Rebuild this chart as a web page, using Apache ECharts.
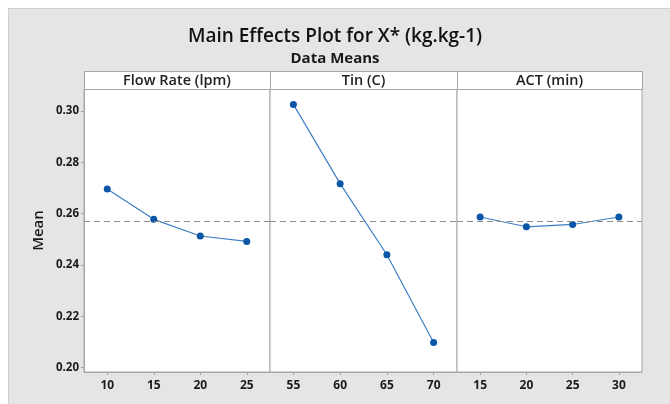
<!DOCTYPE html>
<html><head><meta charset="utf-8">
<script src="https://cdn.jsdelivr.net/npm/echarts@6/dist/echarts.min.js"></script>
<style>
html,body{margin:0;padding:0;background:#fff;}
#bg{position:absolute;left:8px;top:8px;width:670px;height:404px;background:#e5e5e5;border-left:1px solid #cfcfcf;border-top:1px solid #cfcfcf;}
#c{position:absolute;left:0;top:0;width:670px;height:404px;}
</style></head>
<body><div id="bg"></div><div id="c"></div>
<script>
const title = 'Main Effects Plot for X* (kg.kg-1)';
const subtitle = 'Data Means';
const panelNames = ['Flow Rate (lpm)', 'Tin (C)', 'ACT (min)'];
const flowCats = ['10', '15', '20', '25'];
const flowVals = [0.2696, 0.2578, 0.2513, 0.2492];
const tinCats = ['55', '60', '65', '70'];
const tinVals = [0.3026, 0.2717, 0.2440, 0.2098];
const actCats = ['15', '20', '25', '30'];
const actVals = [0.2587, 0.2549, 0.2558, 0.2587];
const grandMean = 0.2570;
const yTicks = [0.20, 0.22, 0.24, 0.26, 0.28, 0.30];
const yMin = 0.1983, yMax = 0.3086;

const cats = [flowCats, tinCats, actCats];
const vals = [flowVals, tinVals, actVals];
const lefts = [84, 270, 457];
const widths = [186, 187, 185];
const font = 'Open Sans';
const blue = '#0a56a6';

const grids = [], xAxes = [], yAxes = [], series = [];
for (let i = 0; i < 3; i++) {
  grids.push({left: lefts[i], top: 89, width: widths[i], height: 283, show: true,
    backgroundColor: '#fff', borderColor: '#a6a6a6', borderWidth: 1});
  xAxes.push({type: 'category', gridIndex: i, data: cats[i], boundaryGap: true,
    axisLine: {show: true, lineStyle: {color: '#a6a6a6'}},
    axisTick: {show: true, alignWithLabel: true, length: 3, lineStyle: {color: '#a6a6a6'}},
    axisLabel: {color: '#1a1a1a', fontFamily: font, fontSize: 12, fontWeight: 'bold', margin: 8},
    splitLine: {show: false}});
  yAxes.push({type: 'value', gridIndex: i, min: yMin, max: yMax,
    axisLine: {show: i === 0, lineStyle: {color: '#a6a6a6'}},
    axisTick: {show: i === 0, length: 3, customValues: yTicks, lineStyle: {color: '#a6a6a6'}},
    axisLabel: {show: i === 0, customValues: yTicks, color: '#1a1a1a', fontFamily: font, fontSize: 11.5, fontWeight: 'bold', margin: 5,
      formatter: v => v.toFixed(2)},
    splitLine: {show: false},
    name: i === 0 ? 'Mean' : '', nameLocation: 'middle', nameGap: 38,
    nameTextStyle: {color: '#1a1a1a', fontFamily: font, fontSize: 15, fontWeight: 600}});
  series.push({type: 'line', xAxisIndex: i, yAxisIndex: i, data: vals[i],
    symbol: 'circle', symbolSize: 7, lineStyle: {color: '#3f7fc4', width: 1.2},
    itemStyle: {color: blue}, silent: true,
    markLine: {silent: true, symbol: 'none', precision: 4, label: {show: false},
      lineStyle: {color: '#8c8c8c', type: [6, 4], width: 1},
      data: [{yAxis: grandMean}]}});
}

const graphics = [];
for (let i = 0; i < 3; i++) {
  graphics.push({type: 'rect', shape: {x: lefts[i] + 0.5, y: 71.5, width: widths[i], height: 18},
    style: {fill: '#fff', stroke: '#a6a6a6', lineWidth: 1}});
  graphics.push({type: 'text', x: lefts[i] + widths[i] / 2, y: 81,
    style: {text: panelNames[i], fill: '#222', font: '600 14.5px "Open Sans"', textAlign: 'center', textVerticalAlign: 'middle'}});
}

const chart = echarts.init(document.getElementById('c'));
chart.setOption({
  backgroundColor: 'transparent',
  animation: false,
  title: [
    {text: title, left: 'center', top: 22, textStyle: {fontFamily: font, fontSize: 19, fontWeight: 600, color: '#111'}},
    {text: subtitle, left: 'center', top: 46, textStyle: {fontFamily: font, fontSize: 15, fontWeight: 'bold', color: '#1a1a1a'}}
  ],
  grid: grids, xAxis: xAxes, yAxis: yAxes, series: series,
  graphic: graphics
});
</script></body></html>
